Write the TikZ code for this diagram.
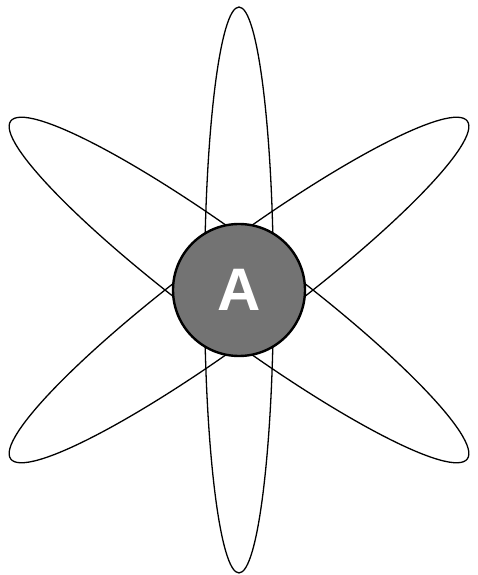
\documentclass[tikz,border=0pt]{standalone}
\usepackage{fontspec}
\setmainfont{Liberation Sans}
\begin{document}
\begin{tikzpicture}[x=1pt,y=1pt,
  petal/.style={draw=black,line width=1.3pt},
  hub/.style={circle,draw=black,line width=2.4pt,fill=hubgray,minimum size=132pt,inner sep=0pt,
    text=white,font=\fontsize{60}{60}\selectfont\bfseries}]
\definecolor{hubgray}{HTML}{737373}
\useasboundingbox (0,0) rectangle (478,575);
\coordinate (c) at (239,285);
\draw[petal] (c) ellipse [x radius=34.5, y radius=283];
\draw[petal,rotate around={-36.5:(c)}] (c) ellipse [x radius=284, y radius=45];
\draw[petal,rotate around={36.5:(c)}] (c) ellipse [x radius=284, y radius=45];
\node[hub] (a) at (c) {A};
\end{tikzpicture}
\end{document}
